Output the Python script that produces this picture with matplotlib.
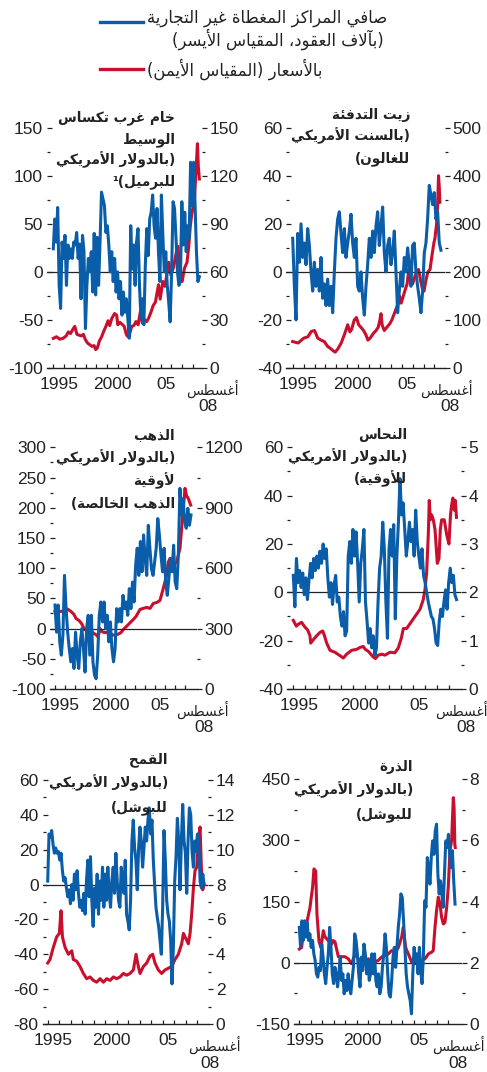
import re
import numpy as np
import matplotlib
matplotlib.use("Agg")
import matplotlib.pyplot as plt
from matplotlib.lines import Line2D
from matplotlib.ticker import FixedLocator, FuncFormatter

# ---------------------------------------------------------------- data
START, END = 1995.0, 2008.6   # weekly/monthly positions span Jan 1995 .. Aug 2008

# Panel 1: WTI crude
wti_pos = [24, 55, 31, 67, -14, -38, 31, 14, 38, -14, 28, 14, 24, 14, 31, 28, 41, 14, 29, -28,
           38, 21, -59, -14, 14, 0, 21, -21, 40, -24, 36, -14, 31, 83, 76, 69, 41, 48, 28, 0,
           21, -10, 14, -21, 0, -28, -10, -45, -21, -42, -28, -48, -69, 48, 3, 28, -14, 31, 45, -14,
           -48, -28, -55, 7, 45, 17, 55, 62, 80, 48, 35, 66, 21, -10, 80, 38, 0, 21, -14, -31,
           -52, 0, 73, 66, 35, 0, -14, -10, 73, 28, 62, 21, 48, 35, 114, 69, 114, 73, 21, -10, -5]
wti_price_t = [1995.0, 1995.3, 1995.6, 1995.9, 1996.2, 1996.4, 1996.6, 1996.85, 1997.0, 1997.2,
               1997.4, 1997.6, 1997.8, 1998.0, 1998.2, 1998.4, 1998.6, 1998.8, 1998.95, 1999.1,
               1999.3, 1999.5, 1999.7, 1999.9, 2000.1, 2000.25, 2000.45, 2000.7, 2000.9, 2001.0,
               2001.2, 2001.45, 2001.6, 2001.8, 2001.95, 2002.1, 2002.3, 2002.5, 2002.7, 2002.9,
               2003.1, 2003.3, 2003.5, 2003.7, 2003.9, 2004.1, 2004.3, 2004.5, 2004.8, 2004.95,
               2005.2, 2005.4, 2005.65, 2005.75, 2005.95, 2006.2, 2006.5, 2006.6, 2006.8, 2007.0,
               2007.2, 2007.45, 2007.6, 2007.75, 2007.87, 2008.0, 2008.15, 2008.3, 2008.42, 2008.5,
               2008.6]
wti_price = [18.5, 19.5, 18, 18.5, 20, 22.5, 21.5, 24.5, 26, 21,
             20.5, 20, 21, 17.5, 15.5, 14.5, 13.5, 14, 11.5, 12.5,
             17, 19.5, 23, 26, 29.5, 26.5, 31, 34, 33, 27,
             28.5, 27, 26, 21, 19.5, 21, 26, 26.5, 29, 27,
             35, 28, 30, 29, 31.5, 35, 39, 41, 52, 43,
             54, 51, 62, 66, 58, 63, 74, 76, 60, 54,
             62, 66, 75, 88, 95, 100, 106, 125, 140, 126,
             118]

# Panel 2: heating oil
hoil_pos = [14, -6, -20, 16, 4, 20, 6, 12, 3, 18, 11, 0, -8, 4, -6, 1, -8, 6, -11, -5,
            -14, -3, -14, -6, -17, 0, 14, 22, 25, 16, 8, 18, 6, 12, 17, 24, 12, 6, 14, -6,
            -8, 0, -11, -18, -6, 3, 14, 6, 17, 8, 19, 25, 11, 19, 27, 8, 0, 11, 14, 3,
            8, 17, 0, -17, -8, 0, -6, 6, 0, 10, 3, -6, 11, 12, 0, -6, -11, -17, -8, 8,
            12, 22, 36, 32, 28, 33, 22, 25, 12, 9]
hoil_price_t = [1995.0, 1995.5, 1996.0, 1996.4, 1996.7, 1997.0, 1997.3, 1997.6, 1997.9, 1998.2,
                1998.5, 1998.7, 1998.9, 1999.15, 1999.45, 1999.75, 2000.05, 2000.25, 2000.4, 2000.65,
                2000.85, 2001.05, 2001.25, 2001.5, 2001.7, 2001.9, 2002.1, 2002.4, 2002.65, 2002.85,
                2003.0, 2003.1, 2003.2, 2003.4, 2003.65, 2003.9, 2004.1, 2004.35, 2004.6, 2004.8,
                2004.95, 2005.15, 2005.35, 2005.5, 2005.65, 2005.8, 2006.0, 2006.2, 2006.35, 2006.55,
                2006.75, 2006.9, 2007.05, 2007.2, 2007.4, 2007.6, 2007.75, 2007.95, 2008.05, 2008.2,
                2008.3, 2008.38, 2008.45, 2008.5]
hoil_price = [55, 52, 62, 65, 76, 78, 62, 58, 55, 45,
              40, 36, 33, 40, 52, 70, 90, 75, 80, 100,
              105, 90, 85, 78, 70, 58, 62, 72, 78, 85,
              100, 113, 90, 78, 85, 92, 100, 115, 130, 150,
              135, 150, 165, 175, 205, 190, 175, 190, 200, 205,
              180, 165, 160, 180, 200, 205, 230, 260, 270, 300,
              340, 400, 375, 345]

# Panel 3: gold
gold_pos = [39, -6, 39, -22, -44, -11, 88, 33, -6, -33, -55, -33, -66, -6, -44, -66, -22, 0, -33, -72,
            0, 22, -44, 22, -55, -77, -83, -44, 22, 44, 11, 44, 0, 22, -22, 11, -33, -55, -33, 33,
            11, 33, 11, 55, 33, 44, 22, 66, 33, 77, 44, 105, 133, 88, 144, 94, 155, 116, 88, 171,
            133, 99, 88, 110, 133, 182, 155, 122, 94, 133, 77, 55, 83, 116, 94, 138, 77, 66, 122, 232,
            188, 215, 177, 166, 199, 171, 188]
gold_price_t = [1995.0, 1995.2, 1995.5, 1995.8, 1996.1, 1996.3, 1996.6, 1996.9, 1997.1, 1997.4,
                1997.67, 1997.95, 1998.2, 1998.6, 1998.9, 1999.1, 1999.3, 1999.5, 1999.6, 1999.8,
                2000.2, 2000.5, 2000.8, 2001.0, 2001.3, 2001.6, 2001.83, 2002.33, 2002.83, 2003.1,
                2003.5, 2003.8, 2004.17, 2004.5, 2004.83, 2005.2, 2005.5, 2005.83, 2006.17, 2006.33,
                2006.5, 2006.83, 2007.17, 2007.5, 2007.77, 2008.0, 2008.15, 2008.33, 2008.57]
gold_price = [385, 388, 385, 386, 400, 395, 385, 370, 350, 340,
              324, 295, 292, 290, 275, 270, 258, 300, 290, 282,
              280, 275, 268, 267, 272, 280, 295, 320, 345, 360,
              395, 400, 405, 400, 425, 430, 440, 500, 565, 630,
              648, 615, 631, 700, 860, 996, 960, 946, 913]

# Panel 4: copper
copper_pos = [7, -6, 14, 4, 9, 2, 8, -1, 6, -3, 5, 12, 6, 14, 9, 15, 10, 17, 12, 20,
              14, 18, 6, -2, 4, -5, 3, 7, -4, -2, -10, -14, -8, -18, -16, 15, 21, 12, 26, 15,
              25, 12, -4, 12, 18, 26, -4, -12, -21, -15, -23, -18, -26, -23, -4, 10, 15, 29, 18, -4,
              -19, 18, 26, 15, 28, -11, 15, 29, 47, 32, 37, 26, 15, 21, 29, 21, 26, 15, 34, 21,
              15, 10, 18, 7, 4, 0, -4, -7, -10, -11, -15, -21, -22, -12, -7, -10, -4, 1, -7, 4,
              10, 4, 7, -1, -3]
copper_price_t = [1995.0, 1995.25, 1995.42, 1995.69, 1995.97, 1996.2, 1996.39, 1996.45, 1996.67, 1996.94,
                  1997.22, 1997.45, 1997.6, 1997.78, 1998.06, 1998.47, 1998.89, 1999.17, 1999.44, 1999.86,
                  2000.28, 2000.56, 2000.83, 2001.0, 2001.25, 2001.67, 2001.85, 2002.08, 2002.36, 2002.64,
                  2003.06, 2003.47, 2003.75, 2004.0, 2004.17, 2004.44, 2004.72, 2005.0, 2005.28, 2005.56,
                  2005.83, 2005.97, 2006.11, 2006.25, 2006.33, 2006.42, 2006.53, 2006.67, 2006.81, 2007.0,
                  2007.14, 2007.25, 2007.36, 2007.58, 2007.78, 2007.97, 2008.1, 2008.19, 2008.3, 2008.42,
                  2008.5, 2008.6]
copper_price = [1.42, 1.3, 1.34, 1.38, 1.28, 1.22, 1.1, 0.95, 1.02, 1.1,
                1.17, 1.2, 1.1, 0.95, 0.8, 0.76, 0.69, 0.64, 0.72, 0.8,
                0.82, 0.86, 0.88, 0.82, 0.78, 0.66, 0.63, 0.7, 0.72, 0.7,
                0.76, 0.75, 0.85, 1.05, 1.25, 1.25, 1.35, 1.45, 1.55, 1.65,
                1.85, 2.05, 2.4, 3.2, 3.9, 3.5, 3.6, 3.5, 3.3, 2.6,
                2.7, 3.3, 3.5, 3.5, 3.2, 3.0, 3.6, 3.8, 3.95, 3.7,
                3.9, 3.55]

# Panel 5: wheat
wheat_pos = [2, 29, 27, 31, 23, 18, 21, 18, 19, 14, 18, 8, 2, 4, -2, -7, -3, -11, 0, -9,
             6, -3, 8, -5, -13, -9, -15, -5, -17, 2, 14, -7, 16, -9, -24, -2, -13, 6, -17, 2,
             -9, 10, -13, 6, -9, 10, -5, -13, 2, 10, -5, 18, 2, -9, -13, 10, 2, -5, 14, -17,
             -21, -26, -9, 25, 37, 21, 14, -3, 21, 33, 25, 10, 21, 33, 25, 37, 44, 29, 37, 14,
             0, -13, -19, -24, -32, -40, -13, 31, 14, -9, -17, -21, -32, -57, -36, 2, 16, 38, 25, -3,
             25, 46, 25, 18, -5, 25, 44, 40, 19, 10, 25, 19, 29, 25, 2, -2, 6, 0]
wheat_price_t = [1995.0, 1995.2, 1995.49, 1995.78, 1996.01, 1996.16, 1996.28, 1996.51, 1996.8, 1997.09,
                 1997.23, 1997.52, 1997.81, 1998.1, 1998.39, 1998.68, 1998.97, 1999.26, 1999.55, 1999.84,
                 2000.13, 2000.42, 2000.71, 2001.0, 2001.29, 2001.58, 2001.87, 2002.16, 2002.45, 2002.68,
                 2002.88, 2003.03, 2003.32, 2003.61, 2003.9, 2004.13, 2004.33, 2004.62, 2004.91, 2005.2,
                 2005.49, 2005.78, 2006.07, 2006.36, 2006.65, 2006.8, 2006.94, 2007.09, 2007.23, 2007.38,
                 2007.52, 2007.67, 2007.81, 2007.96, 2008.1, 2008.25, 2008.36, 2008.48, 2008.59]
wheat_price = [3.5, 3.7, 4.4, 5.0, 5.2, 6.5, 5.0, 4.4, 4.0, 4.2,
               3.7, 3.6, 3.3, 2.9, 2.6, 2.7, 2.5, 2.4, 2.6, 2.4,
               2.6, 2.5, 2.7, 2.6, 2.7, 2.9, 2.8, 2.9, 3.1, 4.0,
               3.3, 2.9, 3.3, 3.5, 3.9, 4.0, 3.5, 3.1, 2.9, 3.1,
               3.2, 3.3, 3.7, 4.0, 4.6, 5.2, 5.0, 4.8, 4.6, 5.2,
               6.3, 7.8, 8.8, 9.0, 10.5, 11.3, 9.0, 7.7, 8.0]

# Panel 6: corn
corn_pos = [87, 38, 103, 55, 103, 63, 99, 55, 71, 38, 55, 22, 6, -27, -35, -11, -19, 46, 14, -27,
            -51, -11, 22, 87, 38, -27, -51, -11, -27, -59, -27, 14, -43, -27, -76, -43, -68, -27, -59, -76,
            -43, -11, 71, 55, 22, -27, -59, 14, -19, 46, 22, -27, 6, -43, -27, 22, -27, 22, -43, -59,
            -27, -76, -59, -11, 22, 71, 38, -27, -76, -84, -43, 14, 38, -11, 38, 87, 120, 169, 161, 103,
            38, -27, -59, -76, -92, -125, -27, 38, 6, 22, -27, 38, -19, -51, 14, 152, 136, 258, 234, 193,
            258, 299, 266, 323, 340, 218, 169, 201, 169, 136, 218, 299, 283, 315, 266, 234, 275, 201, 144]
corn_price_t = [1995.0, 1995.2, 1995.35, 1995.64, 1995.93, 1996.16, 1996.28, 1996.43, 1996.54, 1996.72,
                1996.89, 1997.1, 1997.24, 1997.53, 1997.82, 1997.97, 1998.12, 1998.41, 1998.7, 1998.99,
                1999.28, 1999.57, 1999.86, 2000.15, 2000.44, 2000.73, 2001.03, 2001.32, 2001.61, 2001.9,
                2002.19, 2002.48, 2002.77, 2003.06, 2003.36, 2003.65, 2003.94, 2004.08, 2004.29, 2004.52,
                2004.81, 2005.1, 2005.39, 2005.68, 2005.98, 2006.27, 2006.56, 2006.7, 2006.85, 2006.99,
                2007.14, 2007.29, 2007.43, 2007.58, 2007.72, 2007.87, 2008.01, 2008.16, 2008.3, 2008.45,
                2008.52, 2008.58, 2008.62]
corn_price = [2.45, 2.5, 2.95, 3.3, 3.8, 4.47, 5.07, 5.0, 3.6, 2.7,
              2.5, 3.05, 2.85, 2.73, 2.61, 2.73, 2.68, 2.2, 2.2, 2.2,
              2.13, 1.97, 2.29, 2.13, 2.03, 2.08, 2.13, 2.08, 2.03, 2.08,
              2.19, 2.24, 2.29, 2.4, 2.35, 2.5, 2.84, 3.16, 2.5, 2.29,
              2.03, 1.97, 2.03, 2.08, 2.13, 2.29, 2.35, 2.4, 3.16, 3.71,
              4.15, 3.92, 3.49, 3.27, 3.32, 3.81, 4.47, 5.67, 5.99, 7.4,
              7.07, 5.88, 5.77]

# text
legend_blue = ["صافي المراكز المغطاة غير التجارية", "(بآلاف العقود، المقياس الأيسر)"]
legend_red = "بالأسعار (المقياس الأيمن)"
titles = [
    ["خام غرب تكساس", "الوسيط", "(بالدولار الأمريكي", "للبرميل)¹"],
    ["زيت التدفئة", "(بالسنت الأمريكي", "للغالون)"],
    ["الذهب", "(بالدولار الأمريكي", "لأوقية", "الذهب الخالصة)"],
    ["النحاس", "(بالدولار الأمريكي", "للأوقية)"],
    ["القمح", "(بالدولار الأمريكي", "للبوشل)"],
    ["الذرة", "(بالدولار الأمريكي", "للبوشل)"],
]
month_label = "أغسطس"
year_labels = ["1995", "2000", "05"]
year_label_pos = [1995.5, 2000.5, 2005.5]

BLUE = "#0a5da8"
RED = "#c8102e"

# ---------------------------------------------------------------- arabic shaping
_spec = [('\u0621', 1), ('\u0622', 2), ('\u0623', 2), ('\u0624', 2), ('\u0625', 2), ('\u0626', 4),
         ('\u0627', 2), ('\u0628', 4), ('\u0629', 2), ('\u062A', 4), ('\u062B', 4), ('\u062C', 4),
         ('\u062D', 4), ('\u062E', 4), ('\u062F', 2), ('\u0630', 2), ('\u0631', 2), ('\u0632', 2),
         ('\u0633', 4), ('\u0634', 4), ('\u0635', 4), ('\u0636', 4), ('\u0637', 4), ('\u0638', 4),
         ('\u0639', 4), ('\u063A', 4), ('\u0641', 4), ('\u0642', 4), ('\u0643', 4), ('\u0644', 4),
         ('\u0645', 4), ('\u0646', 4), ('\u0647', 4), ('\u0648', 2), ('\u0649', 2), ('\u064A', 4)]
FORMS = {}
_c = 0xFE80
for _ch, _n in _spec:
    FORMS[_ch] = [chr(_c + i) for i in range(_n)]
    _c += _n
LAM_ALEF = {'\u0622': ('\uFEF5', '\uFEF6'), '\u0623': ('\uFEF7', '\uFEF8'),
            '\u0625': ('\uFEF9', '\uFEFA'), '\u0627': ('\uFEFB', '\uFEFC')}


def _jn(c):
    return c == '\u0640' or (c in FORMS and len(FORMS[c]) == 4)


def _jp(c):
    return c == '\u0640' or (c in FORMS and len(FORMS[c]) >= 2)


def shape(s):
    chars = [c for c in s if not ('\u064B' <= c <= '\u0652')]
    out, prev, i, n = [], False, 0, len(chars)
    while i < n:
        c = chars[i]
        if c == '\u0644' and i + 1 < n and chars[i + 1] in LAM_ALEF:
            iso, fin = LAM_ALEF[chars[i + 1]]
            out.append(fin if prev else iso)
            prev = False
            i += 2
            continue
        if c in FORMS:
            f = FORMS[c]
            nxt = chars[i + 1] if i + 1 < n else None
            to_next = _jn(c) and nxt is not None and _jp(nxt)
            to_prev = prev and _jp(c)
            if to_prev and to_next:
                g = f[3]
            elif to_prev:
                g = f[1]
            elif to_next:
                g = f[2]
            else:
                g = f[0]
            out.append(g)
            prev = to_next
        elif c == '\u0640':
            out.append(c)
            prev = True
        else:
            out.append(c)
            prev = False
        i += 1
    return ''.join(out)


def ar(s):
    v = shape(s)[::-1]
    v = v.translate({ord('('): ')', ord(')'): '('})
    v = re.sub(r'[0-9]+', lambda m: m.group(0)[::-1], v)
    return v


# ---------------------------------------------------------------- figure
W, H = 487, 1072
fig = plt.figure(figsize=(W / 100, H / 100), dpi=100)
fig.patch.set_facecolor("white")
NUMFONT = "Liberation Sans"
ARFONT = ["DejaVu Sans"]
INK = "#222222"


def fx(x):
    return x / W


def fy(y):
    return 1 - y / H


def P(px):
    return px * 72 / 100.0


panels = [
    dict(box=(47, 202, 127.7, 368), x0=53.3, s=10.74, ylim=(-100, 150), maj=50, rlim=(0, 150), rmaj=30,
         pos=wti_pos, pt=wti_price_t, pv=wti_price, tx=175, ty=[121.5, 142.8, 164.1, 185.4],
         mx=(212, 389), yx=(208, 406)),
    dict(box=(286, 445, 127.7, 368), x0=292.7, s=10.9, ylim=(-40, 60), maj=20, rlim=(0, 500), rmaj=100,
         pos=hoil_pos, pt=hoil_price_t, pv=hoil_price, tx=410, ty=[118.5, 140.5, 162.5],
         mx=(446, 389), yx=(450, 406)),
    dict(box=(50, 197, 447.3, 689), x0=55, s=10.0, ylim=(-100, 300), maj=50, rlim=(0, 1200), rmaj=300,
         pos=gold_pos, pt=gold_price_t, pv=gold_price, tx=175, ty=[440, 462.5, 485, 507.5],
         mx=(202, 710), yx=(204, 728)),
    dict(box=(287, 461, 447.3, 689), x0=293.3, s=12.0, ylim=(-40, 60), maj=20, rlim=(0, 5), rmaj=1,
         pos=copper_pos, pt=copper_price_t, pv=copper_price, tx=407, ty=[438.5, 461, 483.5],
         mx=(461, 710), yx=(466, 728)),
    dict(box=(42.7, 208.3, 780, 1024), x0=47.7, s=11.5, ylim=(-80, 60), maj=20, rlim=(0, 14), rmaj=2,
         pos=wheat_pos, pt=wheat_price_t, pv=wheat_price, tx=168, ty=[763.5, 787.5, 811.5],
         mx=(214, 1045), yx=(210, 1063)),
    dict(box=(294.3, 461.7, 779.3, 1024), x0=299.3, s=11.45, ylim=(-150, 450), maj=150, rlim=(0, 8), rmaj=2,
         pos=corn_pos, pt=corn_price_t, pv=corn_price, tx=413, ty=[770.5, 794, 818],
         mx=(458, 1045), yx=(458, 1063)),
]

fmt = FuncFormatter(lambda v, p: ("%g" % v).replace("\u2212", "-"))

for k, pnl in enumerate(panels):
    L, R, T, B = pnl["box"]
    ax = fig.add_axes([fx(L), fy(B), (R - L) / W, (B - T) / H])
    ax2 = ax.twinx()
    ax.set_zorder(ax2.get_zorder() + 1)
    ax.patch.set_visible(False)
    xl = START + (L - pnl["x0"]) / pnl["s"]
    xr = START + (R - pnl["x0"]) / pnl["s"]
    ax.set_xlim(xl, xr)
    ax.set_ylim(*pnl["ylim"])
    ax2.set_ylim(*pnl["rlim"])
    for sp in ["top", "right", "left"]:
        ax.spines[sp].set_visible(False)
    for sp in ax2.spines.values():
        sp.set_visible(False)
    ax.spines["bottom"].set_linewidth(1.0)
    ax.spines["bottom"].set_color(INK)

    # y ticks
    lo, hi = pnl["ylim"]
    maj = pnl["maj"]
    ax.yaxis.set_major_locator(FixedLocator(np.arange(lo, hi + maj * 0.01, maj)))
    ax.yaxis.set_minor_locator(FixedLocator(np.arange(lo + maj / 2, hi, maj)))
    ax.yaxis.set_major_formatter(fmt)
    ax.tick_params(axis="y", which="major", direction="in", length=P(5), width=0.9, pad=P(4),
                   labelsize=12.5, colors=INK)
    ax.tick_params(axis="y", which="minor", direction="in", length=P(2.5), width=0.9, colors=INK)
    rlo, rhi = pnl["rlim"]
    rmaj = pnl["rmaj"]
    ax2.yaxis.set_major_locator(FixedLocator(np.arange(rlo, rhi + rmaj * 0.01, rmaj)))
    ax2.yaxis.set_minor_locator(FixedLocator(np.arange(rlo + rmaj / 2, rhi, rmaj)))
    ax2.yaxis.set_major_formatter(fmt)
    ax2.tick_params(axis="y", which="major", direction="out", length=P(5), width=0.9, pad=P(2.5),
                    labelsize=12.5, colors=INK)
    ax2.tick_params(axis="y", which="minor", direction="out", length=P(2.5), width=0.9, colors=INK)
    ax2.tick_params(axis="x", bottom=False, labelbottom=False)
    for lab in ax.get_yticklabels() + ax2.get_yticklabels():
        lab.set_family(NUMFONT)

    # x ticks
    ax.xaxis.set_major_locator(FixedLocator(np.arange(1995, 2009)))
    ax.xaxis.set_major_formatter(FuncFormatter(lambda v, p: ""))
    ax.set_xticks(year_label_pos, year_labels, minor=True)
    ax.tick_params(axis="x", which="major", direction="in", length=P(4.5), width=0.9, colors=INK)
    ax.tick_params(axis="x", which="minor", length=0, pad=P(9), labelsize=12.5, labelcolor=INK)
    for lab in ax.get_xticklabels(minor=True):
        lab.set_family(NUMFONT)

    # zero line and data
    ax.axhline(0, color=INK, lw=0.9, zorder=1)
    ax2.plot(pnl["pt"], pnl["pv"], color=RED, lw=2.2, solid_joinstyle="round", zorder=2)
    tpos = np.linspace(START, END, len(pnl["pos"]))
    ax.plot(tpos, pnl["pos"], color=BLUE, lw=2.2, solid_joinstyle="round", zorder=3)

    # title
    for line, yb in zip(titles[k], pnl["ty"]):
        fig.text(fx(pnl["tx"]), fy(yb), ar(line), ha="right", va="baseline", fontsize=9.8,
                 fontweight="bold", family=ARFONT, color=INK)
    # month label
    mx, my = pnl["mx"]
    fig.text(fx(mx), fy(my), ar(month_label), ha="center", va="center", fontsize=10,
             family=ARFONT, color=INK)
    yx, yy = pnl["yx"]
    fig.text(fx(yx), fy(yy), "08", ha="center", va="center", fontsize=12.5, family=NUMFONT,
             color=INK)

# legend
fig.add_artist(Line2D([fx(100), fx(143)], [fy(21.7), fy(21.7)], color=BLUE, lw=2.4))
fig.add_artist(Line2D([fx(100), fx(143)], [fy(69), fy(69)], color=RED, lw=2.4))
fig.text(fx(387), fy(22.7), ar(legend_blue[0]), ha="right", va="baseline", fontsize=11.9,
         family=ARFONT, color=INK)
fig.text(fx(384), fy(46), ar(legend_blue[1]), ha="right", va="baseline", fontsize=11.9,
         family=ARFONT, color=INK)
fig.text(fx(322), fy(76), ar(legend_red), ha="right", va="baseline", fontsize=11.9,
         family=ARFONT, color=INK)

fig.savefig("out.png", dpi=100, facecolor="white")
